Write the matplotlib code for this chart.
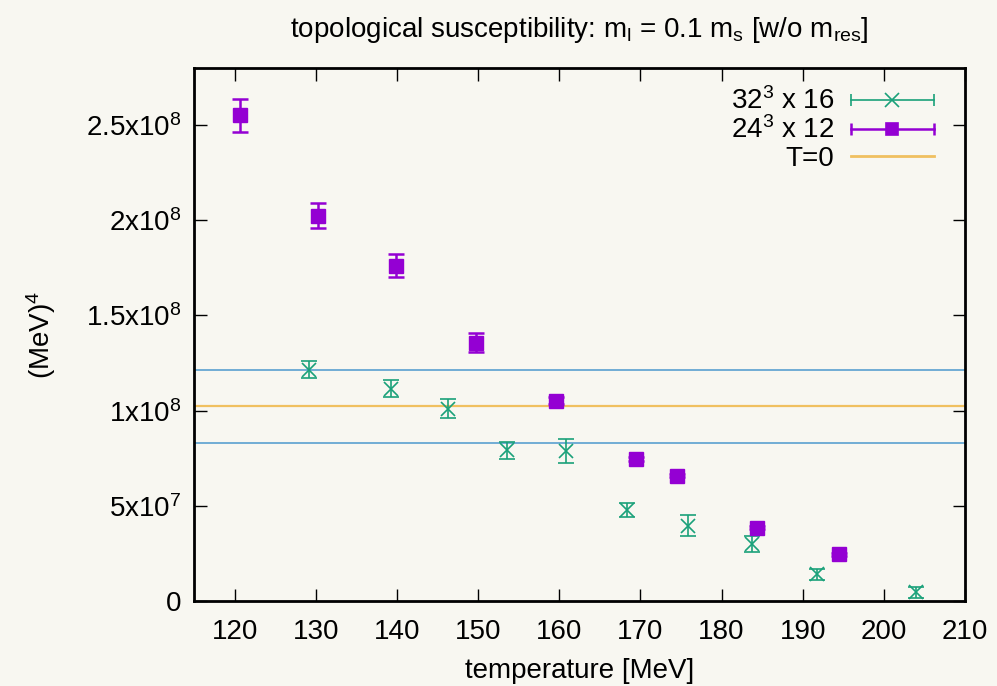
import numpy as np
import matplotlib.pyplot as plt
from matplotlib.ticker import FuncFormatter
from matplotlib.legend_handler import HandlerBase
from matplotlib.lines import Line2D

plt.rcParams['font.family'] = ['Liberation Sans', 'DejaVu Sans']
plt.rcParams['mathtext.default'] = 'regular'

# 24^3 x 12
T24 = [120.7, 130.3, 139.9, 149.7, 159.6, 169.4, 174.5, 184.4, 194.5]
chi24 = [2.551e8, 2.025e8, 1.762e8, 1.356e8, 1.053e8, 0.746e8, 0.658e8, 0.386e8, 0.246e8]
err24 = [0.085e8, 0.067e8, 0.060e8, 0.050e8, 0.020e8, 0.008e8, 0.008e8, 0.008e8, 0.008e8]

# 32^3 x 16
T32 = [129.2, 139.3, 146.3, 153.5, 160.8, 168.3, 175.9, 183.7, 191.7, 204.0]
chi32 = [1.216e8, 1.116e8, 1.009e8, 0.791e8, 0.789e8, 0.477e8, 0.395e8, 0.298e8, 0.140e8, 0.046e8]
err32 = [0.045e8, 0.045e8, 0.050e8, 0.044e8, 0.062e8, 0.038e8, 0.055e8, 0.042e8, 0.030e8, 0.028e8]

# T=0 value and band
chi_T0 = 1.023e8
chi_T0_band = [1.212e8, 0.832e8]

green = '#1aa17a'
purple = '#9400d3'


class HErrHandler(HandlerBase):
    # gnuplot-like key sample: horizontal bar with end caps and marker in the middle
    def __init__(self, marker, ms, lw, **kw):
        super().__init__(**kw)
        self.marker, self.ms, self.lw = marker, ms, lw

    def create_artists(self, legend, orig, xd, yd, w, h, fs, trans):
        c = orig.get_color()
        y = yd + h / 2
        line = Line2D([xd, xd + w], [y, y], color=c, lw=self.lw, transform=trans)
        caps = Line2D([xd, xd + w], [y, y], ls='', marker='|', ms=9, mew=self.lw,
                      color=c, transform=trans)
        mk = Line2D([xd + w / 2], [y], ls='', marker=self.marker, ms=self.ms,
                    mew=1.2, color=c, transform=trans)
        return [line, caps, mk]


bg = '#f8f7f1'
fig = plt.figure(figsize=(9.97, 6.86), dpi=100, facecolor=bg)
ax = fig.add_axes([0.1946, 0.1239, 0.7734, 0.777], facecolor=bg)

ax.errorbar(T32, chi32, yerr=err32, fmt='x', color=green, ms=10, mew=1.2,
            elinewidth=1.2, capsize=6, capthick=1.2, zorder=3)
ax.errorbar(T24, chi24, yerr=err24, fmt='s', color=purple, ms=9.5,
            elinewidth=1.8, capsize=6, capthick=1.8, zorder=3)
ax.axhline(chi_T0, color='#f0c060', lw=1.6, zorder=2)
for v in chi_T0_band:
    ax.axhline(v, color='#5aa0d0', lw=1.2, zorder=2)

h32 = Line2D([], [], color=green)
h24 = Line2D([], [], color=purple)
h0 = Line2D([], [], color='#f0c060', lw=2)

ax.set_xlim(115, 210)
ax.set_ylim(0, 2.8e8)
ax.set_xticks(np.arange(120, 211, 10))
ax.set_yticks(np.arange(0, 2.51e8, 0.5e8))


def yfmt(v, pos):
    if v == 0:
        return '0'
    m = v / 1e8
    if m >= 1:
        return r'%gx10$^{8}$' % m
    return r'%gx10$^{7}$' % (m * 10)


ax.yaxis.set_major_formatter(FuncFormatter(yfmt))
ax.tick_params(direction='in', length=9, width=1, top=True, right=True,
               labelsize=20, colors='black')
ax.tick_params(axis='x', pad=13)
ax.tick_params(axis='y', pad=9)
for s in ax.spines.values():
    s.set_linewidth(2)

ax.set_xlabel('temperature [MeV]', fontsize=20, labelpad=9)
ax.set_ylabel(r'(MeV)$^4$', fontsize=20, labelpad=20)
ax.set_title(r'topological susceptibility: m$_l$ = 0.1 m$_s$ [w/o m$_{res}$]',
             fontsize=20, pad=22)

ax.legend([h32, h24, h0], [r'32$^3$ x 16', r'24$^3$ x 12', 'T=0'],
          handler_map={h32: HErrHandler('x', 10, 1.2), h24: HErrHandler('s', 9, 1.8)},
          loc='upper right', frameon=False, markerfirst=False, fontsize=20,
          handlelength=3.0, handletextpad=0.6, labelspacing=0.05,
          borderaxespad=0.3, bbox_to_anchor=(0.985, 1.0))

fig.savefig('out.png', dpi=100, facecolor=bg)
